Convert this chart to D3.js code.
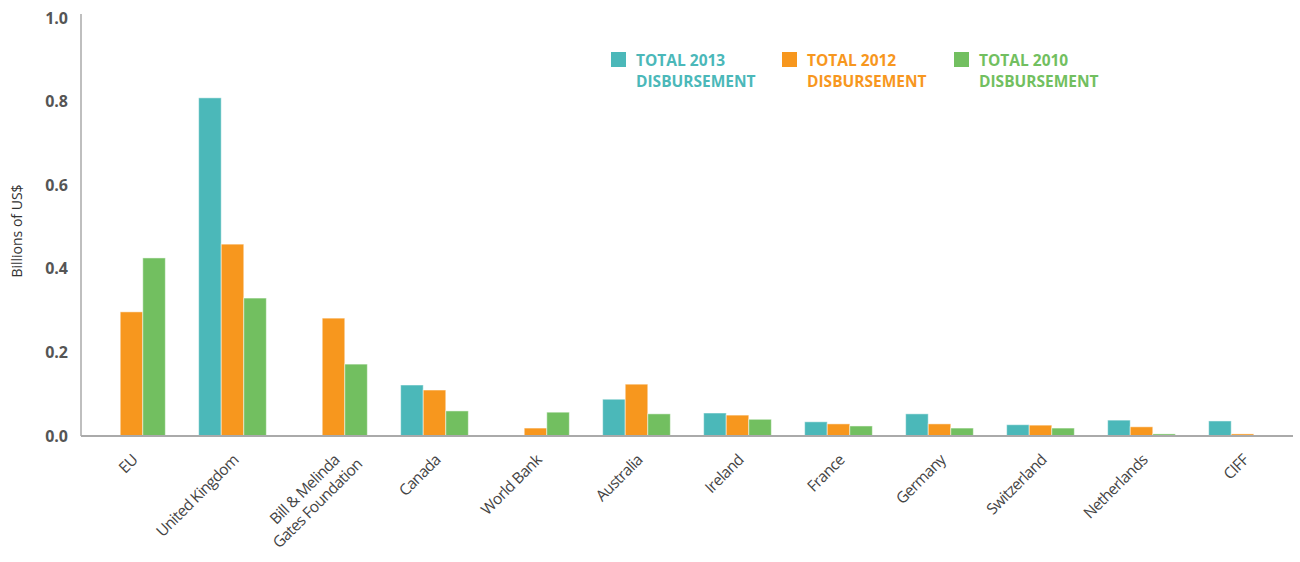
<!DOCTYPE html>
<html>
<head>
<meta charset="utf-8">
<script src="https://cdn.jsdelivr.net/npm/d3@7"></script>
<style>
  body { margin: 0; background: #fff; }
  svg text { font-family: "Open Sans", sans-serif; }
</style>
</head>
<body>
<div id="chart"></div>
<script>
// donors along the x axis
const donors = ['EU', 'United Kingdom', 'Bill & Melinda|Gates Foundation', 'Canada', 'World Bank',
  'Australia', 'Ireland', 'France', 'Germany', 'Switzerland', 'Netherlands', 'CIFF'];

// billions of US$ (null = no bar)
const total2013 = [null, 0.809, null, 0.122, null, 0.088, 0.055, 0.034, 0.053, 0.027, 0.038, 0.036];
const total2012 = [0.297, 0.459, 0.282, 0.110, 0.019, 0.124, 0.050, 0.029, 0.029, 0.026, 0.022, 0.005];
const total2010 = [0.426, 0.330, 0.172, 0.060, 0.057, 0.053, 0.040, 0.024, 0.019, 0.019, 0.005, null];

const seriesNames = ['TOTAL 2013|DISBURSEMENT', 'TOTAL 2012|DISBURSEMENT', 'TOTAL 2010|DISBURSEMENT'];
const seriesColors = ['#4bb8b9', '#f7971e', '#72bf60'];
const yTicks = [0, 0.2, 0.4, 0.6, 0.8, 1.0];

const width = 1300, height = 562;
const margin = { left: 81, right: 7, top: 18, bottom: 126 };

const svg = d3.select('#chart').append('svg')
  .attr('width', width)
  .attr('height', height);

const x = d3.scaleBand()
  .domain(donors)
  .range([margin.left, width - margin.right])
  .paddingInner(0.33)
  .paddingOuter(0.165);

const series = ['2013', '2012', '2010'];
const xInner = d3.scaleBand()
  .domain(series)
  .range([0, x.bandwidth()]);

const y = d3.scaleLinear()
  .domain([0, 1])
  .range([height - margin.bottom, margin.top]);

const values = { '2013': total2013, '2012': total2012, '2010': total2010 };

// bars
const groups = svg.append('g').selectAll('g')
  .data(donors)
  .join('g')
  .attr('transform', d => 'translate(' + x(d) + ',0)');

groups.selectAll('rect')
  .data((d, i) => series.map((s, j) => ({ s, j, v: values[s][i] })).filter(e => e.v !== null))
  .join('rect')
  .attr('x', d => xInner(d.s))
  .attr('width', xInner.bandwidth())
  .attr('y', d => y(d.v))
  .attr('height', d => y(0) - y(d.v))
  .attr('fill', d => seriesColors[d.j])
  .attr('stroke', '#fff')
  .attr('stroke-opacity', 0.5)
  .attr('stroke-width', 1);

// y axis
const yAxis = svg.append('g')
  .attr('transform', 'translate(' + margin.left + ',0)')
  .call(d3.axisLeft(y).tickValues(yTicks).tickFormat(d3.format('.1f')).tickSize(0).tickPadding(13));
yAxis.select('.domain').remove();
yAxis.selectAll('text')
  .attr('font-size', 16)
  .attr('font-weight', 'bold')
  .attr('fill', '#555')
  .attr('font-family', '"Open Sans", sans-serif');

svg.append('line')
  .attr('x1', margin.left).attr('x2', margin.left)
  .attr('y1', margin.top - 4).attr('y2', y(0))
  .attr('stroke', '#aaa').attr('stroke-width', 1.5);

svg.append('line')
  .attr('x1', margin.left).attr('x2', width - margin.right)
  .attr('y1', y(0)).attr('y2', y(0))
  .attr('stroke', '#aaa').attr('stroke-width', 2);

svg.append('text')
  .attr('transform', 'translate(22,' + (y(0.5) + 4) + ') rotate(-90)')
  .attr('text-anchor', 'middle')
  .attr('font-size', 14)
  .attr('fill', '#333')
  .text('Billions of US$');

// x labels
const xl = svg.append('g').selectAll('text')
  .data(donors)
  .join('text')
  .attr('transform', d => 'translate(' + (x(d) + x.bandwidth() / 2 + 7) + ',' + (y(0) + 25) + ') rotate(-45)')
  .attr('text-anchor', 'end')
  .attr('font-size', 15.5)
  .attr('letter-spacing', -0.6)
  .attr('fill', '#444');
xl.selectAll('tspan')
  .data(d => d.split('|'))
  .join('tspan')
  .attr('x', (d, i) => i * 13)
  .attr('dy', (d, i) => i === 0 ? 0 : 19)
  .text(d => d);

// legend
const legendX = [611, 782, 954];
const legend = svg.append('g').selectAll('g')
  .data(seriesNames)
  .join('g')
  .attr('transform', (d, i) => 'translate(' + legendX[i] + ',52)');
legend.append('rect')
  .attr('width', 15).attr('height', 15)
  .attr('fill', (d, i) => seriesColors[i]);
const lt = legend.append('text')
  .attr('font-size', 15.5)
  .attr('font-weight', 'bold')
  .attr('fill', (d, i) => seriesColors[i]);
lt.selectAll('tspan')
  .data(d => d.split('|'))
  .join('tspan')
  .attr('x', 25)
  .attr('y', (d, i) => 14 + i * 21)
  .text(d => d);
</script>
</body>
</html>
